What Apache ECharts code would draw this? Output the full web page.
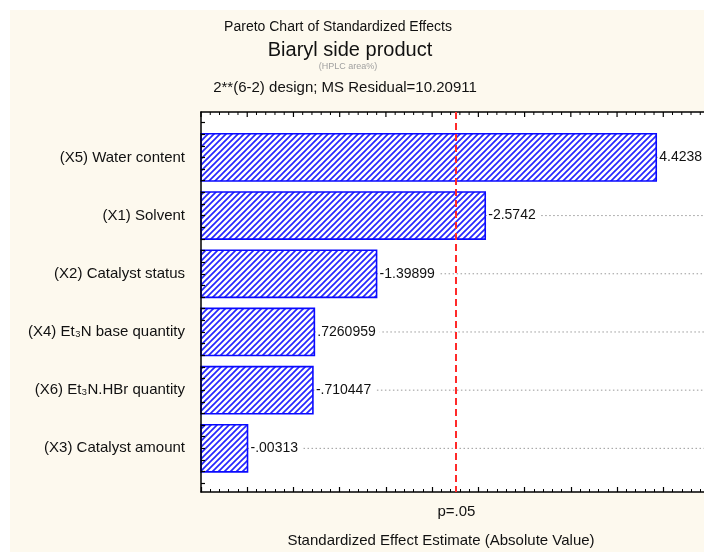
<!DOCTYPE html>
<html>
<head>
<meta charset="utf-8">
<script src="https://cdn.jsdelivr.net/npm/echarts@6/dist/echarts.min.js"></script>
<style>
  html, body { margin: 0; padding: 0; background: #ffffff; }
  #chart { width: 704px; height: 552px; }
</style>
</head>
<body>
<div id="chart"></div>
<script>
// Factors, top to bottom, and their standardized effects (signed t-values)
const factors = [
  '(X5) Water content',
  '(X1) Solvent',
  '(X2) Catalyst status',
  '(X4) Et\u2083N base quantity',
  '(X6) Et\u2083N.HBr quantity',
  '(X3) Catalyst amount'
];
const effects = [4.4238, -2.5742, -1.39899, 0.7260959, -0.710447, -0.00313];

// Critical t for p = .05 (df = 9)
const pCrit = 2.262157;
const pLabel = 'p=.05';

// Value axis range of the standardized effect
const xMin = -0.5;
const xMax = 5.2;
const xStep = 0.5;

// Row axis range (row 0 at the top)
const yMin = -0.78;
const yMax = 5.75;

const FONT = '"Liberation Sans", Arial, sans-serif';

// Statistica-style effect text: drop the leading zero (".726", "-.0031")
function fmtEffect(v) {
  return String(v).replace(/^(-?)0\./, '$1.');
}

// Diagonal hatch fill for the bars
function makeHatch() {
  const c = document.createElement('canvas');
  const s = 6;
  c.width = s; c.height = s;
  const g = c.getContext('2d');
  g.fillStyle = '#ffffff';
  g.fillRect(0, 0, s, s);
  g.strokeStyle = '#2626ff';
  g.lineWidth = 1.7;
  g.beginPath();
  g.moveTo(-1, s + 1); g.lineTo(s + 1, -1);
  g.moveTo(-1, 1); g.lineTo(1, -1);
  g.moveTo(s - 1, s + 1); g.lineTo(s + 1, s - 1);
  g.stroke();
  return c;
}
const hatch = { image: makeHatch(), repeat: 'repeat' };

const rows = effects.map((v, i) => [Math.abs(v), i, v]);

// small tick marks along the left frame
const yTicks = [];
for (let t = -0.6; t <= 5.61; t += 0.2) yTicks.push(+t.toFixed(2));

// tick marks along the top frame (every 0.1, longer every 0.5)
const topTicks = [];
for (let t = xMin; t <= xMax + 1e-9; t += 0.1) topTicks.push([+t.toFixed(1)]);

const chart = echarts.init(document.getElementById('chart'), null, { renderer: 'canvas' });

function txt(text, x, y, size, color) {
  return {
    type: 'text', z: 5,
    style: { text: text, x: x, y: y, textAlign: 'center', textVerticalAlign: 'middle',
      font: size + 'px ' + FONT, fill: color }
  };
}

const tickStyle = { color: '#000', width: 1.2 };
const minorStyle = { color: '#000', width: 1 };

chart.setOption({
  animation: false,
  backgroundColor: '#ffffff',
  graphic: [
    { type: 'rect', z: -20, silent: true, shape: { x: 10, y: 10, width: 700, height: 550 },
      style: { fill: '#fdf9ee' } },
    { type: 'rect', z: -10, silent: true, shape: { x: 201, y: 112, width: 527, height: 380 },
      style: { fill: '#ffffff' } },
    txt('Pareto Chart of Standardized Effects', 338, 27, 14, '#111'),
    txt('Biaryl side product', 350, 50, 20, '#111'),
    txt('(HPLC area%)', 348, 67, 9, '#a0a0a0'),
    txt('2**(6-2) design; MS Residual=10.20911', 345, 88, 15, '#111'),
    txt('Standardized Effect Estimate (Absolute Value)', 441, 541, 15, '#111')
  ],
  grid: [
    // main plotting area
    { left: 201, top: 112, width: 527, height: 380,
      outerBoundsMode: 'none', containLabel: false, show: false },
    // thin strip whose bottom edge forms the top frame line
    { left: 201, top: 111, width: 527, height: 1,
      outerBoundsMode: 'none', containLabel: false, show: false }
  ],
  xAxis: [
    {
      type: 'value', gridIndex: 0, position: 'bottom', min: xMin, max: xMax, interval: xStep, z: 4,
      axisLine: { show: true, onZero: false, lineStyle: { color: '#000', width: 1.5 } },
      axisTick: { show: true, inside: true, length: 5, lineStyle: tickStyle },
      minorTick: { show: true, splitNumber: 5, length: 3, lineStyle: minorStyle },
      splitLine: { show: false },
      axisLabel: {
        show: true, customValues: [pCrit], formatter: () => pLabel, margin: 12,
        fontFamily: FONT, fontSize: 15, color: '#111'
      }
    },
    {
      type: 'value', gridIndex: 1, position: 'bottom', min: xMin, max: xMax, interval: xStep, z: 4,
      axisLine: { show: true, onZero: false, lineStyle: { color: '#000', width: 1.5 } },
      axisTick: { show: false },
      minorTick: { show: false },
      splitLine: { show: false },
      axisLabel: { show: false }
    }
  ],
  yAxis: [
    {
      type: 'value', gridIndex: 0, inverse: true, min: yMin, max: yMax, position: 'left', z: 4,
      axisLine: { show: true, onZero: false, lineStyle: { color: '#000', width: 1.5 } },
      axisTick: { show: true, inside: true, length: 4, customValues: yTicks, lineStyle: tickStyle },
      splitLine: { show: false },
      axisLabel: {
        show: true, customValues: factors.map((f, i) => i),
        formatter: (v) => factors[Math.round(v)] || '',
        margin: 16, fontFamily: FONT, fontSize: 15, color: '#111'
      }
    },
    {
      type: 'value', gridIndex: 1, min: 0, max: 1, show: false,
      axisLine: { show: false, onZero: false }
    }
  ],
  series: [
    {
      type: 'custom',
      coordinateSystem: 'cartesian2d',
      xAxisIndex: 0, yAxisIndex: 0,
      data: rows,
      encode: { x: 0, y: 1 },
      clip: false,
      z: 2,
      renderItem: function (params, api) {
        const val = api.value(0);
        const idx = api.value(1);
        const signed = api.value(2);
        // bars grow from the left edge of the axis (its minimum)
        const p0 = api.coord([xMin, idx]);
        const p1 = api.coord([val, idx]);
        const band = api.size([0, 1])[1];
        const h = band * 0.81;
        const cs = params.coordSys;
        const right = cs.x + cs.width;
        return {
          type: 'group',
          children: [
            {
              type: 'line',
              shape: { x1: p1[0], y1: p1[1], x2: right, y2: p1[1] },
              style: { stroke: '#9a9a9a', lineWidth: 1, lineDash: [1.5, 2.5] }
            },
            {
              type: 'rect',
              shape: { x: p0[0], y: p0[1] - h / 2, width: p1[0] - p0[0], height: h },
              style: { fill: hatch, stroke: '#0a0aff', lineWidth: 1.6 }
            },
            {
              type: 'text',
              style: {
                text: fmtEffect(signed), x: p1[0] + 3, y: p1[1],
                textAlign: 'left', textVerticalAlign: 'middle',
                font: '14px ' + FONT, fill: '#111',
                backgroundColor: '#ffffff', padding: [0, 4, 0, 0]
              }
            }
          ]
        };
      },
      markLine: {
        silent: true,
        symbol: 'none',
        z: 5,
        label: { show: false },
        lineStyle: { color: '#ff2a2a', type: [7, 4], width: 2 },
        data: [{ xAxis: pCrit }]
      }
    },
    {
      // inward tick marks hanging from the top frame line
      type: 'custom',
      coordinateSystem: 'cartesian2d',
      xAxisIndex: 0, yAxisIndex: 0,
      data: topTicks,
      encode: { x: 0 },
      clip: false,
      silent: true,
      z: 4,
      renderItem: function (params, api) {
        const v = api.value(0);
        const p = api.coord([v, yMin]);
        const major = Math.abs(v * 2 - Math.round(v * 2)) < 1e-6;
        const len = major ? 5 : 3;
        return {
          type: 'line',
          shape: { x1: p[0], y1: p[1], x2: p[0], y2: p[1] + len },
          style: { stroke: '#000', lineWidth: major ? 1.2 : 1 }
        };
      }
    }
  ]
});
</script>
</body>
</html>
